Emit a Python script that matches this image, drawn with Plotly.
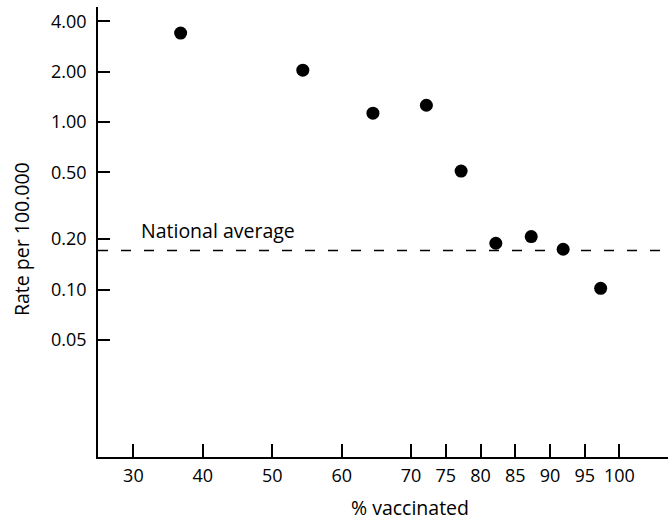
import math
import plotly.graph_objects as go

vaccinated = [36.8, 54.4, 64.5, 72.2, 77.2, 82.2, 87.3, 91.9, 97.3]
rate = [3.40, 2.04, 1.13, 1.26, 0.51, 0.189, 0.207, 0.174, 0.1016]
national_average = 0.171

x_ticks = [30, 40, 50, 60, 70, 75, 80, 85, 90, 95, 100]
y_ticks = [0.05, 0.10, 0.20, 0.50, 1.00, 2.00, 4.00]
y_ticktext = ["0.05", "0.10", "0.20", "0.50", "1.00", "2.00", "4.00"]

FONT = "Open Sans"
FS = 18
FT = 19.5
X_RANGE = [24.9, 107]

fig = go.Figure()
fig.add_trace(go.Scatter(
    x=X_RANGE, y=[national_average, national_average], mode="lines",
    line=dict(color="black", width=1.5, dash="10px,13px"),
    hoverinfo="skip", showlegend=False))
fig.add_trace(go.Scatter(
    x=vaccinated, y=rate, mode="markers",
    marker=dict(color="black", size=13), showlegend=False))

fig.add_annotation(x=30.8, y=math.log10(0.2), xref="x", yref="y", yshift=-7,
                   text="National average", showarrow=False,
                   xanchor="left", yanchor="bottom",
                   font=dict(family=FONT, size=FT, color="black"))

fig.add_annotation(x=(410 - 98) / 570, y=-(507 - 457) / 450, xref="paper", yref="paper",
                   text="% vaccinated", showarrow=False,
                   xanchor="center", yanchor="middle",
                   font=dict(family=FONT, size=FT, color="black"))

fig.add_annotation(x=(21 - 98) / 570, y=(457 - 239) / 450, xref="paper", yref="paper",
                   text="Rate per 100.000", showarrow=False, textangle=-90,
                   xanchor="center", yanchor="middle",
                   font=dict(family=FONT, size=FT, color="black"))

fig.update_layout(
    width=668, height=523,
    margin=dict(l=98, r=0, t=7, b=66),
    paper_bgcolor="white", plot_bgcolor="white",
    font=dict(family=FONT, size=FS, color="black"),
    xaxis=dict(range=X_RANGE, tickvals=x_ticks, ticks="inside", ticklen=13,
               tickwidth=1.5, tickcolor="black", showline=True, linecolor="black",
               linewidth=1.5, showgrid=False, zeroline=False,
               tickfont=dict(family=FONT, size=FS), ticklabelstandoff=2),
    yaxis=dict(type="log", range=[-2, 0.687], tickvals=y_ticks, ticktext=y_ticktext,
               ticks="inside", ticklen=12, tickwidth=1.5, tickcolor="black",
               showline=True, linecolor="black", linewidth=1.5, showgrid=False,
               zeroline=False, tickfont=dict(family=FONT, size=FS),
               ticklabelstandoff=6),
)

fig.write_html("out.html")
